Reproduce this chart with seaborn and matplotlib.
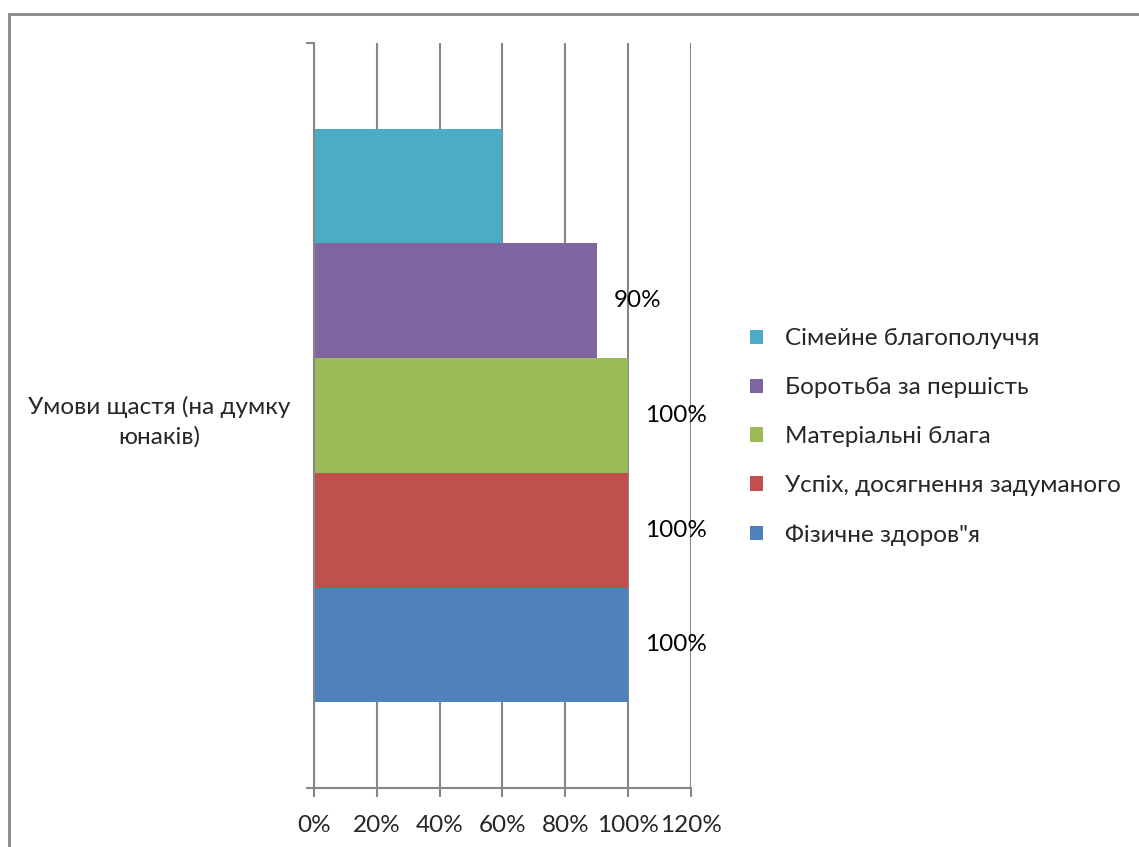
import matplotlib
matplotlib.use("Agg")
import matplotlib.pyplot as plt
from matplotlib.patches import Rectangle
from matplotlib.ticker import FixedLocator, PercentFormatter
import seaborn as sns
import pandas as pd

# ---- data ----
category = "Умови щастя (на думку\nюнаків)"
series = ["Сімейне благополуччя", "Боротьба за першість", "Матеріальні блага",
          "Успіх, досягнення задуманого", "Фізичне здоров\"я"]
values = [0.60, 0.90, 1.00, 1.00, 1.00]
shown_labels = [False, True, True, True, True]
colors = ["#4BACC6", "#8064A2", "#9BBB59", "#C0504D", "#4F81BD"]
x_ticks = [0.0, 0.2, 0.4, 0.6, 0.8, 1.0, 1.2]

sns.set_theme(style="white")
plt.rcParams["font.family"] = ["Lato", "DejaVu Sans"]
FS = 17.5
GRAY = "#878787"

df = pd.DataFrame({"category": [category] * len(series), "series": series, "value": values})

fig = plt.figure(figsize=(11.39, 8.47), dpi=100)
ax = fig.add_axes([314 / 1139, 1 - 788 / 847, (691 - 314) / 1139, (788 - 43) / 847])

sns.barplot(data=df, x="value", y="category", hue="series", hue_order=series,
            palette=colors, orient="h", width=0.77, saturation=1, ax=ax,
            legend=True, linewidth=0)

ax.set_xlim(0, 1.2)
ax.set_ylim(0.5, -0.5)
ax.xaxis.set_major_locator(FixedLocator(x_ticks))
ax.xaxis.set_major_formatter(PercentFormatter(1.0, decimals=0))
ax.grid(axis="x", color=GRAY, linewidth=1.5)
ax.grid(axis="y", visible=False)
ax.set_axisbelow(True)
ax.set_xlabel("")
ax.set_ylabel("")

# y ticks: boundaries with tick marks, label centered without tick
ax.yaxis.set_major_locator(FixedLocator([-0.5, 0.5]))
ax.set_yticklabels(["", ""])
ax.yaxis.set_minor_locator(FixedLocator([0]))
ax.set_yticklabels([category], minor=True)
ax.tick_params(axis="y", which="major", left=True, length=6, width=1.5, color=GRAY)
ax.tick_params(axis="y", which="minor", left=True, length=0, pad=17, labelsize=FS)
for t in ax.get_yticklabels(minor=True):
    t.set_horizontalalignment("right")
    t.set_multialignment("center")
    t.set_linespacing(1.45)
ax.tick_params(axis="x", which="major", bottom=True, length=6.5, width=1.5, color=GRAY,
               labelsize=FS, pad=13)

for s in ["top", "right"]:
    ax.spines[s].set_visible(False)
for s in ["left", "bottom"]:
    ax.spines[s].set_color(GRAY)
    ax.spines[s].set_linewidth(1.5)

# data labels
for cont, val, show in zip(ax.containers, values, shown_labels):
    lab = [f"{val * 100:.0f}%" if show else ""]
    ax.bar_label(cont, labels=lab, padding=12, fontsize=FS, color="black")

# legend
handles, labels = ax.get_legend_handles_labels()
leg = ax.legend(handles, labels, loc="center left",
                bbox_to_anchor=(750 / 1139, 1 - 437 / 847), bbox_transform=fig.transFigure,
                frameon=False, fontsize=FS, handlelength=0.53, handleheight=0.53,
                handletextpad=0.9, labelspacing=1.15, borderpad=0, borderaxespad=0)

# outer chart border
fig.patches.append(Rectangle((9 / 1139, -0.05), 1.1, 1 - 14 / 847 + 0.05,
                             transform=fig.transFigure, fill=False,
                             edgecolor=GRAY, linewidth=2, zorder=0))

fig.savefig("out.png", dpi=100)
